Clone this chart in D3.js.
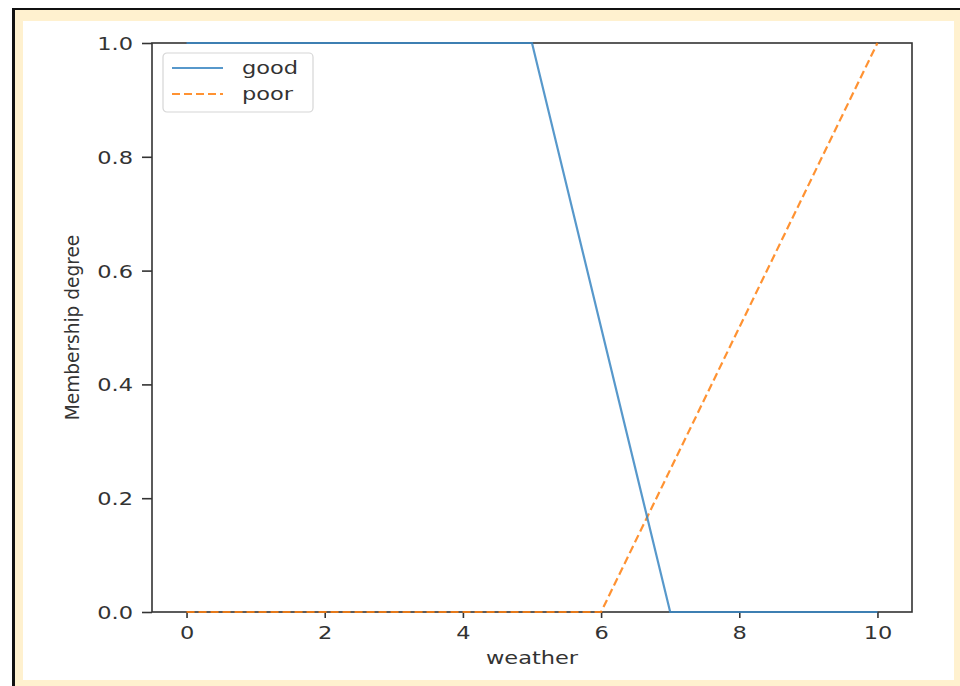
<!DOCTYPE html>
<html>
<head>
<meta charset="utf-8">
<script src="https://cdn.jsdelivr.net/npm/d3@7"></script>
<style>
  body { margin: 0; background: #fff; }
  text { font-family: 'DejaVu Sans', sans-serif; fill: #333; }
</style>
</head>
<body>
<svg id="chart" width="960" height="686"></svg>
<script>
// membership functions
var goodX = [0, 5, 7, 10];
var goodY = [1, 1, 0, 0];
var poorX = [0, 6, 10];
var poorY = [0, 0, 1];
var xTicks = [0, 2, 4, 6, 8, 10];
var yTicks = [0, 0.2, 0.4, 0.6, 0.8, 1.0];
var seriesNames = ['good', 'poor'];

var svg = d3.select('#chart');
var stretch = 1.25;

// frame: black edge, cream band, white page
svg.append('rect').attr('x', 0).attr('y', 0).attr('width', 960).attr('height', 686).attr('fill', '#fff');
svg.append('rect').attr('x', 12).attr('y', 8).attr('width', 960).attr('height', 700).attr('fill', '#111');
svg.append('rect').attr('x', 15).attr('y', 10).attr('width', 960).attr('height', 700).attr('fill', '#fff1cf');
svg.append('rect').attr('x', 23).attr('y', 21).attr('width', 931).attr('height', 659).attr('fill', '#fff');

var margin = { top: 43, left: 152 };
var width = 912 - 152;
var height = 612 - 43;
var g = svg.append('g').attr('transform', 'translate(' + margin.left + ',' + margin.top + ')');

var x = d3.scaleLinear().domain([-0.5, 10.5]).range([0, width]);
var y = d3.scaleLinear().domain([0, 1]).range([height, 0]);

var line = d3.line()
    .x(function(d) { return x(d[0]); })
    .y(function(d) { return y(d[1]); });

var goodData = goodX.map(function(v, i) { return [v, goodY[i]]; });
var poorData = poorX.map(function(v, i) { return [v, poorY[i]]; });

// spines first so the lines sit on top of them
g.append('rect')
    .attr('x', 0).attr('y', 0)
    .attr('width', width).attr('height', height)
    .attr('fill', 'none')
    .attr('stroke', '#333')
    .attr('stroke-width', 1.6);

// axes
var xAxis = g.append('g')
    .attr('transform', 'translate(0,' + height + ')')
    .call(d3.axisBottom(x).tickValues(xTicks).tickSize(6).tickSizeOuter(0).tickPadding(4));
xAxis.select('.domain').remove();
xAxis.selectAll('line').attr('stroke', '#333').attr('stroke-width', 1.6);
xAxis.selectAll('text')
    .attr('font-size', 18)
    .attr('transform', 'scale(' + stretch + ',1)')
    .attr('dy', '0.95em');

var yAxis = g.append('g')
    .call(d3.axisLeft(y).tickValues(yTicks).tickSize(10).tickSizeOuter(0)
        .tickFormat(d3.format('.1f')));
yAxis.select('.domain').remove();
yAxis.selectAll('line').attr('stroke', '#333').attr('stroke-width', 1.6);
yAxis.selectAll('text')
    .attr('font-size', 18)
    .attr('x', -19 / stretch)
    .attr('transform', 'scale(' + stretch + ',1)')
    .attr('dy', '0.36em');

g.append('path')
    .datum(poorData)
    .attr('fill', 'none')
    .attr('stroke', '#ff7f0e')
    .attr('stroke-opacity', 0.85)
    .attr('stroke-width', 2.2)
    .attr('stroke-dasharray', '8,4')
    .attr('d', line);

g.append('path')
    .datum(goodData)
    .attr('fill', 'none')
    .attr('stroke', '#3a86c2')
    .attr('stroke-opacity', 0.85)
    .attr('stroke-width', 2.2)
    .attr('d', line);

// axis labels
svg.append('text')
    .attr('transform', 'translate(532,664) scale(' + stretch + ',1)')
    .attr('text-anchor', 'middle')
    .attr('font-size', 18)
    .text('weather');

svg.append('text')
    .attr('transform', 'translate(79,' + (margin.top + height / 2) + ') rotate(-90) scale(1.03,1.1)')
    .attr('text-anchor', 'middle')
    .attr('font-size', 18)
    .attr('font-family', 'Open Sans, sans-serif')
    .text('Membership degree');

// legend
var legend = g.append('g').attr('transform', 'translate(11,10)');
legend.append('rect')
    .attr('width', 150).attr('height', 59).attr('rx', 4)
    .attr('fill', '#fff').attr('fill-opacity', 0.8)
    .attr('stroke', '#d6d6d6').attr('stroke-width', 1.2);

var legendStyles = [
    { color: '#3a86c2', dash: null },
    { color: '#ff7f0e', dash: '8,4' }
];
seriesNames.forEach(function(name, i) {
    var yy = 15 + i * 26;
    legend.append('line')
        .attr('x1', 9).attr('x2', 60)
        .attr('y1', yy).attr('y2', yy)
        .attr('stroke', legendStyles[i].color)
        .attr('stroke-opacity', 0.85)
        .attr('stroke-width', 2.2)
        .attr('stroke-dasharray', legendStyles[i].dash);
    legend.append('text')
        .attr('transform', 'translate(79,' + (yy + 6) + ') scale(' + stretch + ',1)')
        .attr('font-size', 18)
        .text(name);
});
</script>
</body>
</html>
